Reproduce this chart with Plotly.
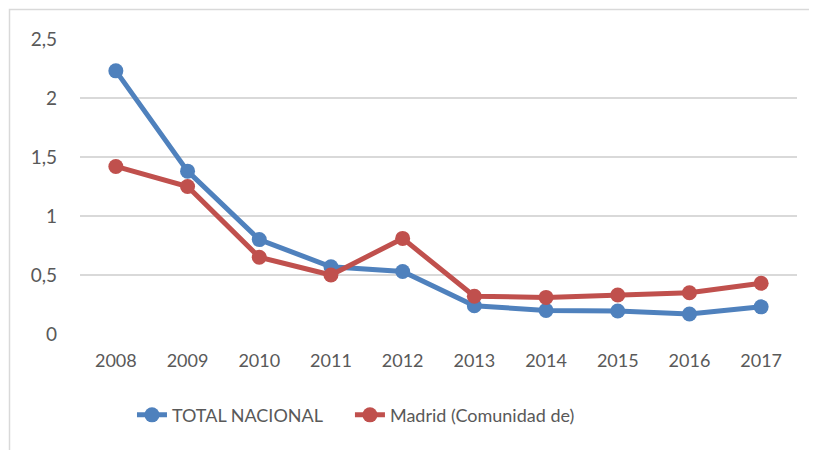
import plotly.graph_objects as go

years = ["2008", "2009", "2010", "2011", "2012", "2013", "2014", "2015", "2016", "2017"]
total_nacional = [2.23, 1.38, 0.80, 0.57, 0.53, 0.24, 0.20, 0.195, 0.17, 0.23]
madrid = [1.42, 1.25, 0.65, 0.50, 0.81, 0.32, 0.31, 0.33, 0.35, 0.43]
y_ticks = [0, 0.5, 1, 1.5, 2, 2.5]

BLUE = "#4F81BD"
RED = "#C0504D"
FONT = "Lato, 'Open Sans', sans-serif"

fig = go.Figure()
fig.add_trace(go.Scatter(x=years, y=total_nacional, name="TOTAL NACIONAL",
                         mode="lines+markers", legend="legend",
                         line=dict(color=BLUE, width=5),
                         marker=dict(color=BLUE, size=15)))
fig.add_trace(go.Scatter(x=years, y=madrid, name="Madrid (Comunidad de)",
                         mode="lines+markers", legend="legend2",
                         line=dict(color=RED, width=5),
                         marker=dict(color=RED, size=15)))

legend_common = dict(orientation="h", xanchor="left", y=-0.275, yanchor="middle",
                     font=dict(size=18, color="#595959"))

fig.update_layout(
    width=817, height=450,
    margin=dict(l=72, r=28, t=31, b=124),
    paper_bgcolor="white", plot_bgcolor="white",
    separators=",.",
    font=dict(family=FONT, size=18, color="#595959"),
    showlegend=True,
    legend=dict(x=0.0725, **legend_common),
    legend2=dict(x=0.3765, **legend_common),
    xaxis=dict(type="category", range=[-0.5, 9.5], showgrid=False, showline=False,
               zeroline=False, ticks="", ticklabelstandoff=14),
    yaxis=dict(range=[0, 2.5], tickvals=y_ticks, showgrid=True, gridcolor="#D9D9D9",
               gridwidth=1.5, zeroline=False, showline=False, ticks="",
               ticklabelstandoff=22, tickfont=dict(size=19)),
    shapes=[dict(type="rect", xref="paper", yref="paper",
                 x0=(9.5 - 80) / 717, x1=(830 - 80) / 717,
                 y0=(334 - 470) / 295, y1=(334 - 9.5) / 295,
                 line=dict(color="#D9D9D9", width=1.5), layer="below")],
)

fig.write_html("out.html")
